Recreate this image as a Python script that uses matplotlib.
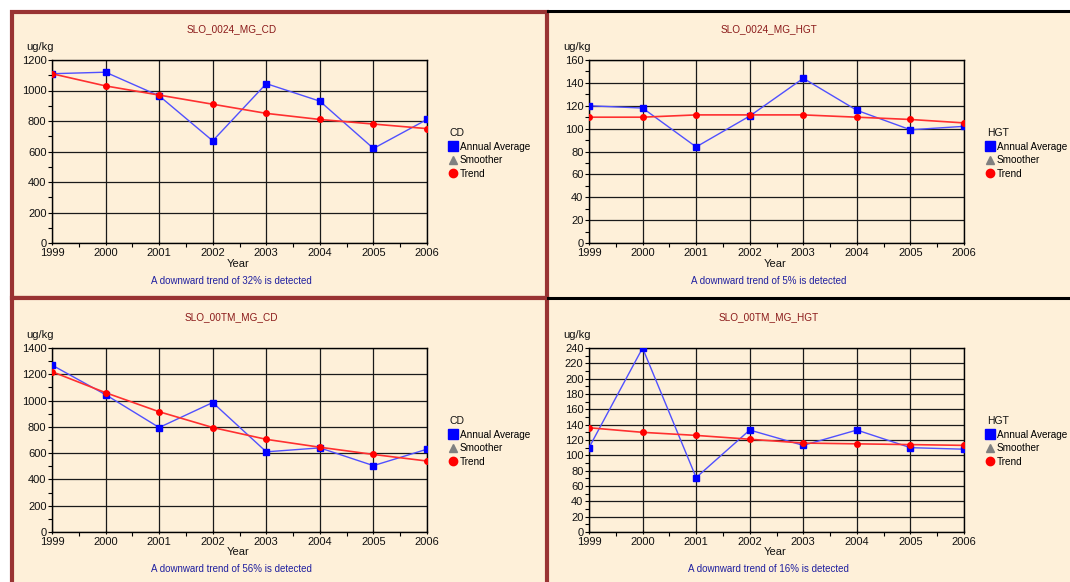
"""Four-panel annual average / trend charts (CD and HGT, two sites)."""

import matplotlib
matplotlib.use("Agg")
import matplotlib.pyplot as plt
from matplotlib.lines import Line2D
from matplotlib.patches import Rectangle
from matplotlib.ticker import MultipleLocator

plt.rcParams["font.family"] = ["Liberation Sans", "DejaVu Sans"]

W, H = 1070, 582
CREAM = "#fef0d9"
MAROON = "#993333"

years = [1999, 2000, 2001, 2002, 2003, 2004, 2005, 2006]

cd_0024_avg = [1110, 1120, 965, 670, 1045, 930, 620, 810]
cd_0024_trend = [1110, 1030, 970, 910, 850, 810, 780, 750]

hgt_0024_avg = [120, 118, 84, 111, 144, 116, 99, 102]
hgt_0024_trend = [110, 110, 112, 112, 112, 110, 108, 105]

cd_00tm_avg = [1270, 1045, 795, 985, 610, 640, 505, 630]
cd_00tm_trend = [1220, 1060, 915, 795, 705, 645, 590, 540]

hgt_00tm_avg = [110, 240, 71, 133, 113, 133, 110, 108]
hgt_00tm_trend = [136, 130, 126, 121, 116, 115, 114, 113]

panels = [
    # title, element, avg, trend, ymax, step, message, (x0, y0) pixel offset
    ("SLO_0024_MG_CD", "CD", cd_0024_avg, cd_0024_trend, 1200, 200,
     "A downward trend of 32% is detected", (0, 0)),
    ("SLO_0024_MG_HGT", "HGT", hgt_0024_avg, hgt_0024_trend, 160, 20,
     "A downward trend of 5% is detected", (537, 0)),
    ("SLO_00TM_MG_CD", "CD", cd_00tm_avg, cd_00tm_trend, 1400, 200,
     "A downward trend of 56% is detected", (0, 288)),
    ("SLO_00TM_MG_HGT", "HGT", hgt_00tm_avg, hgt_00tm_trend, 240, 20,
     "A downward trend of 16% is detected", (537, 288)),
]

fig = plt.figure(figsize=(W / 100, H / 100), dpi=100)
fig.patch.set_facecolor("white")

# background layer in pixel coordinates
bg = fig.add_axes([0, 0, 1, 1])
bg.set_xlim(0, W)
bg.set_ylim(H, 0)
bg.axis("off")
bg.add_patch(Rectangle((548, 11), W - 548, H, fc=CREAM, ec="none"))
bg.plot([548, W], [11, 11], color="black", lw=2.2)
bg.plot([548, W], [298, 298], color="black", lw=2.2)
bg.add_patch(Rectangle((12, 12), 535, 286, fc=CREAM, ec=MAROON, lw=3))
bg.add_patch(Rectangle((12, 298), 535, 300, fc=CREAM, ec=MAROON, lw=3))


def px(x, y):
    return x / W, 1 - y / H


for title, elem, avg, trend, ymax, step, msg, (ox, oy) in panels:
    x0, x1 = 52 + ox, 427 + ox
    ytop = 60 if oy == 0 else 348
    ybot = 243 + oy if oy == 0 else 532
    ax = fig.add_axes([x0 / W, 1 - ybot / H, (x1 - x0) / W, (ybot - ytop) / H])
    ax.set_facecolor(CREAM)

    ax.plot(years, avg, color="#5050ff", lw=1, marker="s", ms=4.8,
            mfc="#0000ff", mec="#0000ff", zorder=3)
    ax.plot(years, trend, color="#ff3030", lw=1.2, marker="o", ms=4,
            mfc="#ff0000", mec="#ff0000", zorder=4)

    ax.set_xlim(1999, 2006)
    ax.set_ylim(0, ymax)
    ax.set_xticks(years)
    ax.xaxis.set_minor_locator(MultipleLocator(0.5))
    ax.yaxis.set_major_locator(MultipleLocator(step))
    ax.yaxis.set_minor_locator(MultipleLocator(step / 2))
    ax.grid(True, which="major", color="#1a1a1a", lw=0.9)
    ax.tick_params(which="major", length=3, width=0.8, labelsize=8, pad=1,
                   color="black", labelcolor="#111111")
    ax.tick_params(which="minor", length=3, width=0.8, color="black")
    ax.tick_params(axis="x", direction="inout", pad=2)
    for s in ax.spines.values():
        s.set_color("black")
        s.set_linewidth(1)

    cx = (x0 + x1) / 2
    fig.text(*px(cx - 8, 29 + oy), title, color="#8b1a1a", fontsize=7.2,
             ha="center", va="center")
    fig.text(*px(26 + ox, 47 + oy), "ug/kg", color="#111111", fontsize=8,
             ha="left", va="center")
    fig.text(*px(cx - 1, 264 + oy), "Year", color="#111111", fontsize=8,
             ha="center", va="center")
    fig.text(*px(cx - 8, 281 + oy), msg, color="#2020a0", fontsize=7,
             ha="center", va="center")

    handles = [
        Line2D([], [], ls="none", marker="s", ms=6.5, color="#0000ff"),
        Line2D([], [], ls="none", marker="^", ms=6, color="#808080"),
        Line2D([], [], ls="none", marker="o", ms=6, color="#ff0000"),
    ]
    leg = ax.legend(handles, ["Annual Average", "Smoother", "Trend"],
                    title=elem, alignment="left", frameon=False,
                    loc="upper left", bbox_to_anchor=px(450 + ox, 128 + oy),
                    bbox_transform=fig.transFigure, fontsize=7.2,
                    title_fontsize=7.5, handlelength=0.65, handletextpad=0.35,
                    labelspacing=0.36, borderpad=0, borderaxespad=0)
    leg.get_title().set_color("#111111")

fig.savefig("out.png", dpi=100)
